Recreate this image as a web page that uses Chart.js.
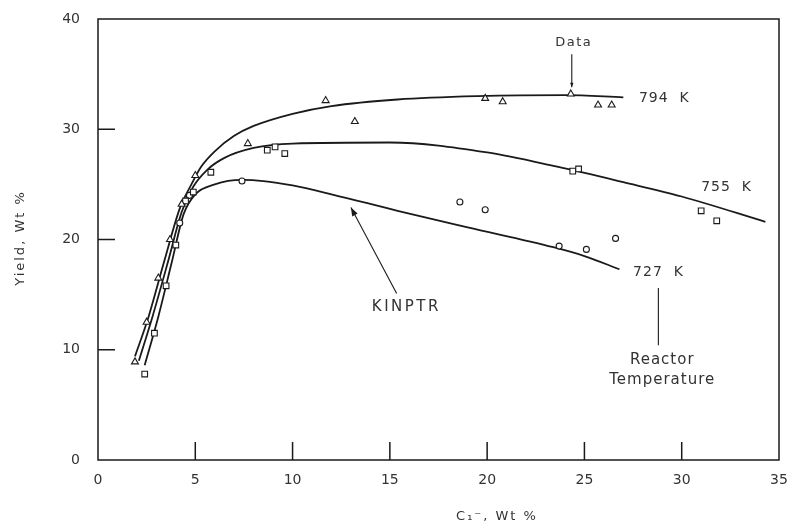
<!DOCTYPE html>
<html>
<head>
<meta charset="utf-8">
<script src="https://cdn.jsdelivr.net/npm/chart.js@4.4.1/dist/chart.umd.min.js"></script>
<style>
  html, body { margin: 0; padding: 0; background: #fff; }
  #wrap { width: 791px; height: 528px; }
</style>
</head>
<body>
<div id="wrap"><canvas id="grafico" width="791" height="528"></canvas></div>
<script>
// Curvas del modelo (KINPTR) para cada temperatura del reactor
const curva794X = [1.9, 2.6, 3.4, 4.2, 4.8, 5.3, 6.0, 7.0, 8.0, 10.0, 12.0, 15.4, 19.5, 24.0, 27.0];
const curva794Y = [9.4, 13.0, 18.0, 22.8, 25.0, 26.6, 28.0, 29.4, 30.3, 31.4, 32.1, 32.7, 33.0, 33.1, 32.9];
const curva755X = [2.1, 2.8, 3.6, 4.3, 4.9, 5.6, 6.5, 8.0, 10.0, 15.0, 20.0, 23.6, 27.0, 30.0, 34.3];
const curva755Y = [9.0, 13.0, 18.0, 22.5, 24.8, 26.3, 27.4, 28.3, 28.7, 28.8, 27.9, 26.6, 25.2, 23.9, 21.6];
const curva727X = [2.4, 3.1, 3.8, 4.4, 5.0, 6.0, 7.4, 8.5, 10.0, 12.0, 15.4, 19.0, 23.4, 25.0, 26.8];
const curva727Y = [8.6, 13.0, 18.0, 22.3, 24.1, 25.0, 25.4, 25.3, 24.9, 24.1, 22.6, 21.1, 19.3, 18.5, 17.3];

// Datos experimentales
const datos794X = [1.9, 2.5, 3.1, 3.7, 4.3, 5.0, 7.7, 11.7, 13.2, 19.9, 20.8, 24.3, 25.7, 26.4];
const datos794Y = [8.9, 12.5, 16.5, 20.0, 23.2, 25.8, 28.7, 32.6, 30.7, 32.8, 32.5, 33.2, 32.2, 32.2];
const datos755X = [2.4, 2.9, 3.5, 4.0, 4.5, 4.9, 5.8, 8.7, 9.1, 9.6, 24.4, 24.7, 31.0, 31.8];
const datos755Y = [7.8, 11.5, 15.8, 19.5, 23.5, 24.3, 26.1, 28.1, 28.4, 27.8, 26.2, 26.4, 22.6, 21.7];
const datos727X = [4.2, 4.7, 7.4, 18.6, 19.9, 23.7, 25.1, 26.6];
const datos727Y = [21.5, 24.0, 25.3, 23.4, 22.7, 19.4, 19.1, 20.1];

// Marcas de los ejes
const marcasX = [5, 10, 15, 20, 25, 30];
const marcasY = [10, 20, 30];

const fuente = '"DejaVu Sans", "Liberation Sans", sans-serif';
const tinta = '#1a1a1a';
const gris = '#333';

function puntos(xs, ys) {
    return xs.map((x, i) => ({ x: x, y: ys[i] }));
}

function flecha(ctx, x1, y1, x2, y2, tam) {
    ctx.beginPath();
    ctx.moveTo(x1, y1);
    ctx.lineTo(x2, y2);
    ctx.stroke();
    const ang = Math.atan2(y2 - y1, x2 - x1);
    ctx.beginPath();
    ctx.moveTo(x2, y2);
    ctx.lineTo(x2 - tam * Math.cos(ang - 0.35), y2 - tam * Math.sin(ang - 0.35));
    ctx.lineTo(x2 - tam * Math.cos(ang + 0.35), y2 - tam * Math.sin(ang + 0.35));
    ctx.closePath();
    ctx.fill();
}

// Texto con espaciado entre letras
function texto(ctx, t, x, y, tam, esp) {
    ctx.font = tam + 'px ' + fuente;
    ctx.letterSpacing = esp + 'px';
    ctx.fillText(t, x, y);
}

// Plugin para el marco, las marcas interiores y las anotaciones
const anotaciones = {
    id: 'anotaciones',
    afterDraw(chart) {
        const ctx = chart.ctx;
        const a = chart.chartArea;
        const sx = chart.scales.x;
        const sy = chart.scales.y;
        const px = v => sx.getPixelForValue(v);
        const py = v => sy.getPixelForValue(v);

        ctx.save();
        ctx.strokeStyle = tinta;
        ctx.fillStyle = tinta;
        ctx.lineWidth = 1.5;
        ctx.strokeRect(a.left, a.top, a.right - a.left, a.bottom - a.top);

        ctx.beginPath();
        marcasX.forEach(v => {
            ctx.moveTo(px(v), a.bottom);
            ctx.lineTo(px(v), a.bottom - 18);
        });
        marcasY.forEach(v => {
            ctx.moveTo(a.left, py(v));
            ctx.lineTo(a.left + 17, py(v));
        });
        ctx.stroke();

        ctx.lineWidth = 1.1;
        ctx.textBaseline = 'middle';
        ctx.fillStyle = gris;

        // Etiqueta "Data" con su flecha
        ctx.textAlign = 'center';
        texto(ctx, 'Data', px(24.45), py(37.9), 13, 1.5);
        ctx.fillStyle = tinta;
        flecha(ctx, px(24.35), py(36.8), px(24.35), py(33.8), 5);
        ctx.fillStyle = gris;

        // Temperaturas
        ctx.textAlign = 'left';
        texto(ctx, '794  K', px(27.8), py(32.8), 14, 1);
        texto(ctx, '755  K', px(31.0), py(24.7), 14, 1);
        texto(ctx, '727  K', px(27.5), py(17.0), 14, 1);

        ctx.beginPath();
        ctx.moveTo(px(28.8), py(15.6));
        ctx.lineTo(px(28.8), py(10.4));
        ctx.stroke();
        ctx.textAlign = 'center';
        texto(ctx, 'Reactor', px(29.0), py(9.1), 15, 1);
        texto(ctx, 'Temperature', px(29.0), py(7.25), 15, 1);

        // KINPTR
        texto(ctx, 'KINPTR', px(15.85), py(13.9), 15, 2.5);
        ctx.fillStyle = tinta;
        flecha(ctx, px(15.35), py(15.1), px(13.0), py(22.9), 9);
        ctx.fillStyle = gris;

        // Titulos de los ejes
        texto(ctx, 'C\u2081\u207B, Wt %', 497, 517, 13, 2);
        ctx.translate(21, 238);
        ctx.rotate(-Math.PI / 2);
        texto(ctx, 'Yield, Wt %', 0, 0, 13, 2);
        ctx.restore();
    }
};

const estiloLinea = {
    showLine: true,
    borderColor: tinta,
    borderWidth: 1.8,
    pointRadius: 0,
    cubicInterpolationMode: 'monotone',
    fill: false
};

const estiloDatos = {
    showLine: false,
    borderColor: tinta,
    backgroundColor: '#fff',
    borderWidth: 1.1
};

const ctx = document.getElementById('grafico').getContext('2d');
const grafico = new Chart(ctx, {
    type: 'scatter',
    data: {
        datasets: [
            Object.assign({ label: '794 K datos', data: puntos(datos794X, datos794Y), pointStyle: 'triangle', pointRadius: 4 }, estiloDatos),
            Object.assign({ label: '755 K datos', data: puntos(datos755X, datos755Y), pointStyle: 'rect', pointRadius: 4 }, estiloDatos),
            Object.assign({ label: '727 K datos', data: puntos(datos727X, datos727Y), pointStyle: 'circle', pointRadius: 3 }, estiloDatos),
            Object.assign({ label: '794 K', data: puntos(curva794X, curva794Y) }, estiloLinea),
            Object.assign({ label: '755 K', data: puntos(curva755X, curva755Y) }, estiloLinea),
            Object.assign({ label: '727 K', data: puntos(curva727X, curva727Y) }, estiloLinea)
        ]
    },
    options: {
        responsive: false,
        animation: false,
        layout: { padding: { left: 0, right: 12, top: 19, bottom: 0 } },
        plugins: {
            legend: { display: false },
            tooltip: { enabled: false }
        },
        scales: {
            x: {
                type: 'linear',
                min: 0,
                max: 35,
                grid: { display: false, drawTicks: false },
                border: { display: false },
                ticks: { stepSize: 5, padding: 12, color: gris, font: { family: fuente, size: 14 } },
                afterFit: scale => {
                    scale.height = 68;
                    scale.paddingLeft = 0;
                    scale.paddingRight = 0;
                }
            },
            y: {
                type: 'linear',
                min: 0,
                max: 40,
                grid: { display: false, drawTicks: false },
                border: { display: false },
                ticks: { stepSize: 10, padding: 18, color: gris, font: { family: fuente, size: 14 } },
                afterFit: scale => {
                    scale.width = 98;
                    scale.paddingTop = 0;
                    scale.paddingBottom = 0;
                }
            }
        }
    },
    plugins: [anotaciones]
});
</script>
</body>
</html>
